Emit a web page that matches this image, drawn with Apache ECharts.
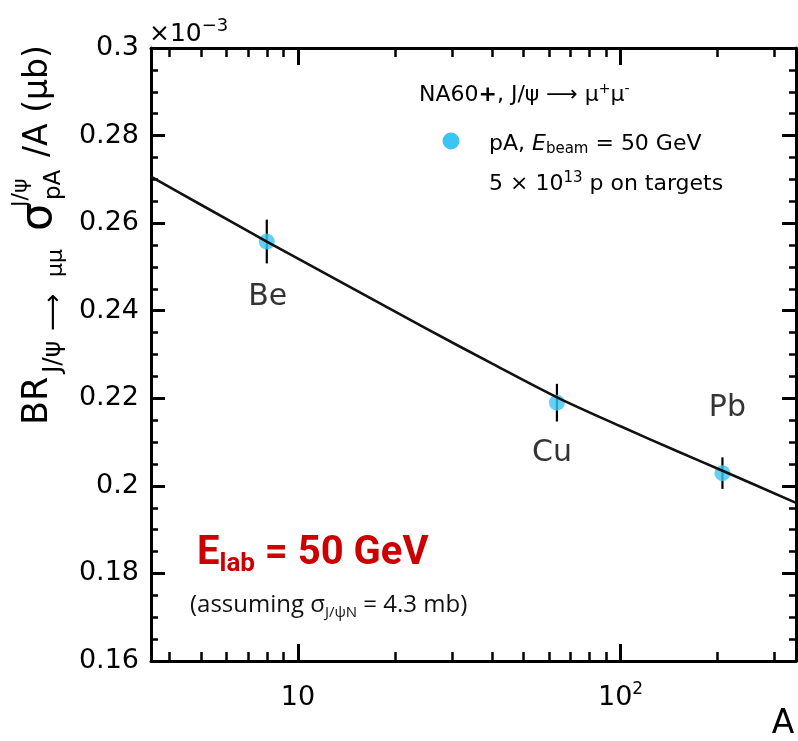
<!DOCTYPE html>
<html>
<head>
<meta charset="utf-8">
<script src="https://cdn.jsdelivr.net/npm/echarts@6/dist/echarts.min.js"></script>
<style>
  html, body { margin: 0; padding: 0; background: #fff; }
  #chart { width: 798px; height: 741px; }
</style>
</head>
<body>
<div id="chart"></div>
<script>
// NA60+ projection: J/psi cross section per nucleon vs target mass number A
const targets = ['Be', 'Cu', 'Pb'];
const massNumber = [8, 63.5, 207];
const sigmaOverA = [0.2558, 0.2190, 0.2029];   // x10^-3 ub
const sigmaErr = [0.0050, 0.0043, 0.0036];

// Glauber curve (sigma_J/psiN = 4.3 mb)
const curveA = [3.5, 5, 8, 10, 15, 25, 40, 64, 100, 150, 208, 350];
const curveY = [0.2706, 0.2642, 0.2558, 0.2519, 0.2448, 0.2359, 0.2279, 0.2201, 0.2136, 0.2079, 0.2034, 0.1961];

const xMajorTicks = [10, 100];
const xMinorTicks = [4, 5, 6, 7, 8, 9, 20, 30, 40, 50, 60, 70, 80, 90, 200, 300];

const SANS = '"DejaVu Sans", "Liberation Sans", sans-serif';
const DOT = '#3cc4f2';

const chart = echarts.init(document.getElementById('chart'), null, { renderer: 'canvas' });

const xRange = { min: 3.5, max: 350 };
const yRange = { min: 0.16, max: 0.30, interval: 0.02 };

function xAxisDef(position, ticks, major, showLabel) {
  return {
    type: 'log', logBase: 10, position: position,
    min: xRange.min, max: xRange.max,
    axisLine: { show: major, lineStyle: { color: '#000', width: 3 } },
    axisTick: {
      show: true, inside: true, length: major ? 17 : 9,
      customValues: ticks,
      lineStyle: { color: '#000', width: major ? 3 : 2.5 }
    },
    axisLabel: showLabel ? {
      show: true, customValues: ticks, margin: 20,
      color: '#000', fontFamily: SANS, fontSize: 27,
      formatter: function (v) {
        const e = Math.round(Math.log10(v));
        return e === 1 ? '{n|10}' : '{n|10}{sup|' + e + '}';
      },
      rich: {
        n: { fontFamily: SANS, fontSize: 27, color: '#000', lineHeight: 30, verticalAlign: 'bottom' },
        sup: { fontFamily: SANS, fontSize: 17, color: '#000', lineHeight: 30, verticalAlign: 'top', padding: [0, 0, 8, 0] }
      }
    } : { show: false },
    splitLine: { show: false },
    minorTick: { show: false }
  };
}

function yAxisDef(position, showLabel) {
  return {
    type: 'value', position: position,
    min: yRange.min, max: yRange.max, interval: yRange.interval,
    axisLine: { show: true, lineStyle: { color: '#000', width: 3 } },
    axisTick: { show: true, inside: true, length: 14, lineStyle: { color: '#000', width: 3 } },
    minorTick: { show: true, splitNumber: 4, length: 7, lineStyle: { color: '#000', width: 2.5 } },
    axisLabel: showLabel ? {
      show: true, margin: 12, color: '#000', fontFamily: SANS, fontSize: 27,
      formatter: function (v) { return String(+v.toFixed(2)); }
    } : { show: false },
    splitLine: { show: false },
    minorSplitLine: { show: false }
  };
}

const labelOffset = { Be: [1, 56], Cu: [-5, 51], Pb: [5, -65] };

const option = {
  animation: false,
  backgroundColor: '#fff',
  grid: { left: 151, right: 2, top: 48, bottom: 80 },
  xAxis: [
    xAxisDef('bottom', xMajorTicks, true, true),
    xAxisDef('bottom', xMinorTicks, false, false),
    xAxisDef('top', xMajorTicks, true, false),
    xAxisDef('top', xMinorTicks, false, false)
  ],
  yAxis: [
    yAxisDef('left', true),
    yAxisDef('right', false)
  ],
  series: [
    {
      type: 'custom',
      name: 'errors',
      xAxisIndex: 0, yAxisIndex: 0,
      z: 2,
      data: massNumber.map((a, i) => [a, sigmaOverA[i] - sigmaErr[i], sigmaOverA[i] + sigmaErr[i]]),
      encode: { x: 0, y: [1, 2] },
      renderItem: function (params, api) {
        const lo = api.coord([api.value(0), api.value(1)]);
        const hi = api.coord([api.value(0), api.value(2)]);
        return {
          type: 'line',
          shape: { x1: lo[0], y1: lo[1], x2: hi[0], y2: hi[1] },
          style: { stroke: '#000', lineWidth: 2.2 }
        };
      }
    },
    {
      type: 'scatter',
      name: 'pA',
      xAxisIndex: 0, yAxisIndex: 0,
      z: 3,
      symbol: 'circle', symbolSize: 16,
      itemStyle: { color: DOT },
      data: massNumber.map((a, i) => ({
        value: [a, sigmaOverA[i]],
        label: { offset: labelOffset[targets[i]] }
      })),
      label: {
        show: true, position: 'inside',
        color: '#000', fontFamily: SANS, fontSize: 30,
        formatter: function (p) { return targets[p.dataIndex]; }
      }
    },
    {
      type: 'line',
      name: 'glauber',
      xAxisIndex: 0, yAxisIndex: 0,
      z: 4,
      showSymbol: false,
      smooth: 0.3,
      lineStyle: { color: '#111', width: 2.6 },
      data: curveA.map((a, i) => [a, curveY[i]])
    }
  ],
  graphic: [
    // y-axis title
    {
      type: 'group', x: 38, y: 425, rotation: Math.PI / 2,
      children: [
        { type: 'text', x: 0, y: 0, style: { text: 'BR', font: '35px ' + SANS, fill: '#000', verticalAlign: 'middle' } },
        { type: 'text', x: 52, y: 15, style: { text: 'J/ψ', font: '25px ' + SANS, fill: '#000', verticalAlign: 'middle' } },
        { type: 'text', x: 94, y: 16, style: { text: '⟶', font: '26px ' + SANS, fill: '#000', verticalAlign: 'middle' } },
        { type: 'text', x: 148, y: 18, style: { text: 'μμ', font: '22px ' + SANS, fill: '#000', verticalAlign: 'middle' } },
        { type: 'text', x: 194, y: 2, style: { text: 'σ', font: '44px ' + SANS, fill: '#000', verticalAlign: 'middle' } },
        { type: 'text', x: 218, y: -17, style: { text: 'J/ψ', font: '22px ' + SANS, fill: '#000', verticalAlign: 'middle' } },
        { type: 'text', x: 225, y: 16, style: { text: 'pA', font: '23px ' + SANS, fill: '#000', verticalAlign: 'middle' } },
        { type: 'text', x: 268, y: 0, style: { text: '/A (μb)', font: '33px ' + SANS, fill: '#000', verticalAlign: 'middle' } }
      ]
    },
    // axis multiplier
    {
      type: 'text', x: 149, y: 34,
      style: {
        text: '×10{sup|−3}', fill: '#000', verticalAlign: 'middle',
        font: '25px ' + SANS,
        rich: { sup: { fontSize: 18, fontFamily: SANS, fill: '#000', verticalAlign: 'top', lineHeight: 34, padding: [0, 0, 14, 0] } }
      }
    },
    // x-axis title
    { type: 'text', x: 783, y: 724, style: { text: 'A', font: '33px ' + SANS, fill: '#000', align: 'center', verticalAlign: 'middle' } },
    // legend block
    {
      type: 'text', x: 419, y: 95,
      style: {
        text: 'NA60{b|+}, J/ψ ⟶ μ{sup|+}μ{sup|-}', font: '22px ' + SANS, fill: '#000', verticalAlign: 'middle',
        rich: {
          b: { fontSize: 22, fontWeight: 'bold', fontFamily: SANS, fill: '#000' },
          sup: { fontSize: 14, fontFamily: SANS, fill: '#000', verticalAlign: 'top', lineHeight: 26, padding: [0, 0, 10, 0] }
        }
      }
    },
    { type: 'circle', shape: { cx: 451, cy: 141, r: 8.5 }, style: { fill: DOT } },
    {
      type: 'text', x: 489, y: 144,
      style: {
        text: 'pA, {it|E}{sub|beam} = 50 GeV', font: '22px ' + SANS, fill: '#000', verticalAlign: 'middle',
        rich: {
          it: { fontSize: 22, fontStyle: 'italic', fontFamily: SANS, fill: '#000' },
          sub: { fontSize: 15, fontFamily: SANS, fill: '#000', verticalAlign: 'bottom', lineHeight: 26, padding: [10, 0, 0, 0] }
        }
      }
    },
    {
      type: 'text', x: 489, y: 184,
      style: {
        text: '5 × 10{sup|13} p on targets', font: '22px ' + SANS, fill: '#000', verticalAlign: 'middle',
        rich: {
          sup: { fontSize: 15, fontFamily: SANS, fill: '#000', verticalAlign: 'top', lineHeight: 26, padding: [0, 0, 10, 0] }
        }
      }
    },
    // annotation
    {
      type: 'text', x: 197, y: 554,
      style: {
        text: 'E{sub|lab} = 50 GeV', font: 'bold 40px Roboto, sans-serif', fill: '#cc0000', verticalAlign: 'middle',
        rich: {
          sub: { fontSize: 26, fontWeight: 'bold', fontFamily: 'Roboto, sans-serif', fill: '#cc0000', verticalAlign: 'bottom', lineHeight: 46, padding: [16, 0, 0, 0] }
        }
      }
    },
    {
      type: 'text', x: 190, y: 605,
      style: {
        text: '(assuming σ{sub|J/ψN} = 4.3 mb)', font: '24px "Open Sans", sans-serif', fill: '#111', verticalAlign: 'middle',
        rich: {
          sub: { fontSize: 15, fontFamily: '"Open Sans", sans-serif', fill: '#111', verticalAlign: 'bottom', lineHeight: 30, padding: [12, 0, 0, 0] }
        }
      }
    }
  ]
};

chart.setOption(option);
</script>
</body>
</html>
